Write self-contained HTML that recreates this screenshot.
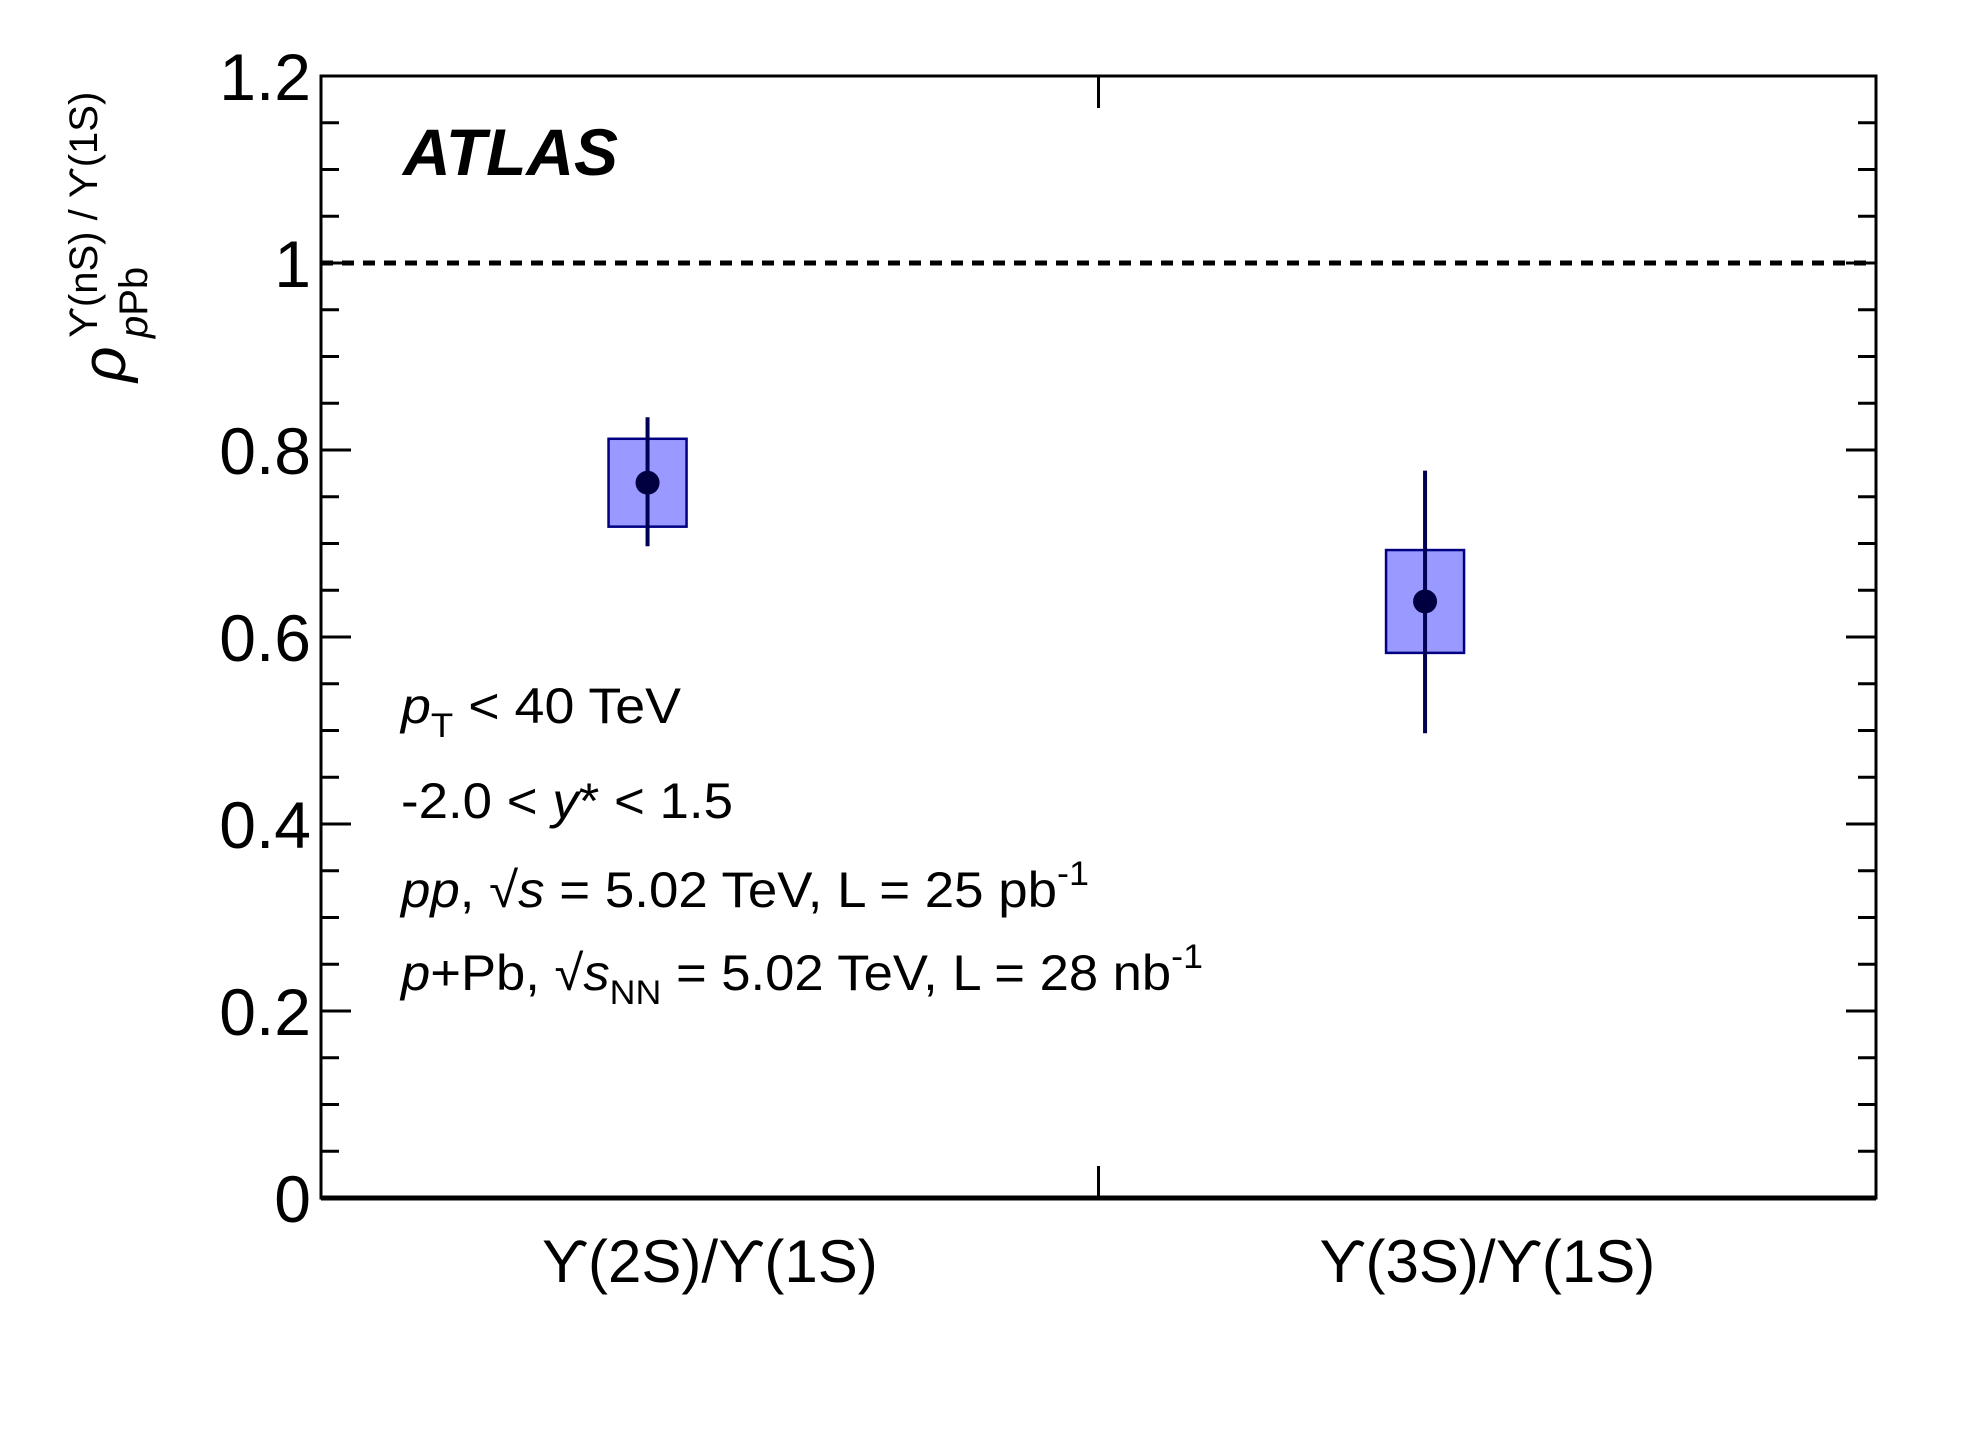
<!DOCTYPE html>
<html><head><meta charset="utf-8"><style>
html,body{margin:0;padding:0;background:#fff;}
svg{display:block;font-family:"Liberation Sans",Arial,sans-serif;}
</style></head><body>
<svg id="chart" width="1979" height="1429" viewBox="0 0 1979 1429" xmlns="http://www.w3.org/2000/svg">
<g id="frame-g"></g>
<g id="marks"></g>
<text x="403" y="175" font-size="66" font-weight="bold" font-style="italic">ATLAS</text>
<g font-size="50">
<text x="401" y="723" textLength="280" lengthAdjust="spacingAndGlyphs"><tspan font-style="italic">p</tspan><tspan font-size="34" dy="14">T</tspan><tspan dy="-14"> &lt; 40 TeV</tspan></text>
<text x="401" y="818" textLength="332" lengthAdjust="spacingAndGlyphs">-2.0 &lt; <tspan font-style="italic">y</tspan>* &lt; 1.5</text>
<text x="401" y="907" textLength="688" lengthAdjust="spacingAndGlyphs"><tspan font-style="italic">pp</tspan>, √<tspan font-style="italic">s</tspan> = 5.02 TeV, L = 25 pb<tspan font-size="34" dy="-22">-1</tspan></text>
<text x="401" y="990" textLength="802" lengthAdjust="spacingAndGlyphs"><tspan font-style="italic">p</tspan>+Pb, √<tspan font-style="italic">s</tspan><tspan font-size="34" dy="14">NN</tspan><tspan dy="-14"> = 5.02 TeV, L = 28 nb</tspan><tspan font-size="34" dy="-22">-1</tspan></text>
</g>
<g transform="translate(125,382) rotate(-90)">
<text x="0" y="0" font-size="62" font-style="italic">ρ</text>
<text x="44" y="-28" font-size="40">ϒ(nS) / ϒ(1S)</text>
<text x="44" y="22" font-size="40"><tspan font-style="italic">p</tspan>Pb</text>
</g>
</svg>
<script>
const categories = ["ϒ(2S)/ϒ(1S)", "ϒ(3S)/ϒ(1S)"];
const values = [0.765, 0.638];
const statHigh = [0.835, 0.778];
const statLow = [0.697, 0.497];
const systHigh = [0.812, 0.693];
const systLow = [0.718, 0.583];
const yTicks = [0, 0.2, 0.4, 0.6, 0.8, 1, 1.2];
const yTickLabels = ["0", "0.2", "0.4", "0.6", "0.8", "1", "1.2"];

const L = 321, R = 1876, T = 76, B = 1198;
const NS = "http://www.w3.org/2000/svg";
const yS = v => B - (v / 1.2) * (B - T);
const xS = c => L + (c / 2) * (R - L);
const fg = document.getElementById('frame-g');
const mk = document.getElementById('marks');
function el(tag, attrs, parent) {
  const e = document.createElementNS(NS, tag);
  for (const k in attrs) e.setAttribute(k, attrs[k]);
  parent.appendChild(e);
  return e;
}
for (let i = 0; i <= 24; i++) {
  const v = i * 0.05, y = yS(v);
  const major = i % 4 === 0;
  const len = major ? 30 : 18;
  const t1 = el('line', {x1: L, x2: L + len, y1: y, y2: y, stroke: '#000', 'stroke-width': 3}, fg);
  
  
  const t2 = el('line', {x1: R, x2: R - len, y1: y, y2: y, stroke: '#000', 'stroke-width': 3}, fg);
  
  
}
yTicks.forEach((v, i) => {
  const t = el('text', {x: 311, y: yS(v) + 24, 'font-size': 66, 'text-anchor': 'end'}, fg);
  t.textContent = yTickLabels[i];
  
  
});
[1].forEach(c => {
  const a = el('line', {x1: xS(c), x2: xS(c), y1: B, y2: B - 32, stroke: '#000', 'stroke-width': 3}, fg);
  
  
  const b = el('line', {x1: xS(c), x2: xS(c), y1: T, y2: T + 32, stroke: '#000', 'stroke-width': 3}, fg);
  
  
});
categories.forEach((c, i) => {
  const t = el('text', {x: xS(i + 0.5), y: 1282, 'font-size': 60, 'text-anchor': 'middle'}, fg);
  t.textContent = c;
  
  
});
const fr = el('rect', {x: L, y: T, width: R - L, height: B - T, fill: 'none', stroke: '#000', 'stroke-width': 3}, fg);


const bx = el('line', {x1: L, x2: R, y1: B, y2: B, stroke: '#000', 'stroke-width': 5}, fg);


const ref = el('line', {x1: L, x2: R, y1: yS(1), y2: yS(1), stroke: '#000', 'stroke-width': 5, 'stroke-dasharray': '12 9'}, mk);


values.forEach((v, i) => {
  const cx = xS(i + 0.42);
  const box = el('rect', {x: cx - 39, y: yS(systHigh[i]), width: 78, height: yS(systLow[i]) - yS(systHigh[i]), fill: '#9999ff', stroke: '#000080', 'stroke-width': 2.5}, mk);
  
  
  const ln = el('line', {x1: cx, x2: cx, y1: yS(statHigh[i]), y2: yS(statLow[i]), stroke: '#000055', 'stroke-width': 4}, mk);
  
  
  const pt = el('circle', {cx: cx, cy: yS(v), r: 12, fill: '#000040'}, mk);
  
  
});
</script>
</body></html>
